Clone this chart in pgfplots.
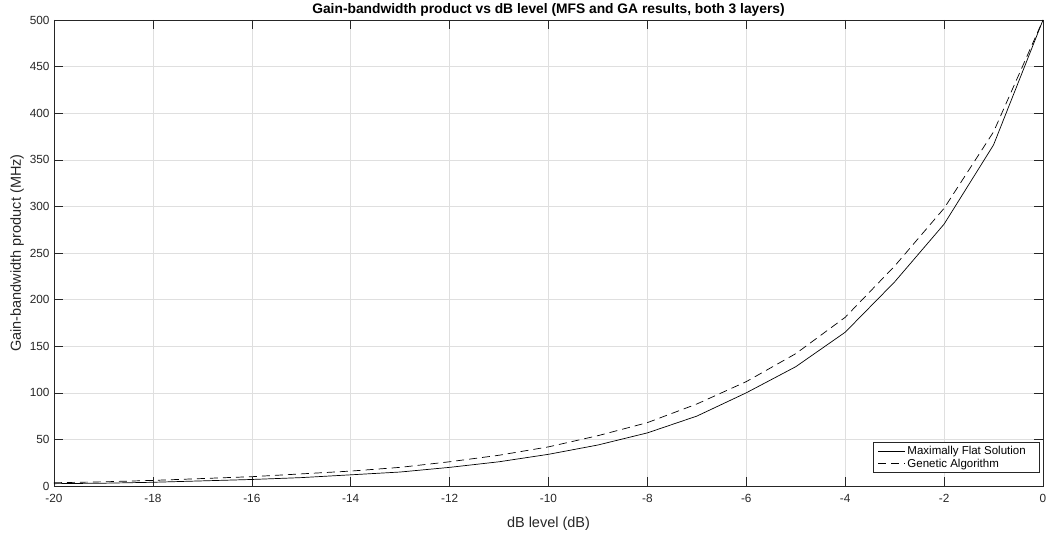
\documentclass[border=0pt]{standalone}
\usepackage{pgfplots}
\pgfplotsset{compat=1.18}
\usepackage{fontspec}
\setmainfont{Liberation Sans}
\definecolor{axgray}{RGB}{38,38,38}
\definecolor{gridgray}{RGB}{223,223,223}
\begin{document}
\begin{tikzpicture}
\begin{axis}[
  scale only axis,
  width=989pt, height=466pt,
  xmin=-20, xmax=0, ymin=0, ymax=500,
  xtick={-20,-18,...,0}, ytick={0,50,...,500},
  grid=major,
  major grid style={gridgray, line width=0.6pt},
  axis line style={axgray, line width=0.6pt},
  tick style={axgray, line width=0.6pt},
  tick align=inside,
  major tick length=9pt,
  ticklabel style={font=\fontsize{11.8}{13}\selectfont, text=axgray},
  /pgf/number format/assume math mode=true,
  xticklabel style={yshift=-5pt},
  yticklabel style={xshift=-1pt},
  xlabel={dB level (dB)},
  ylabel={Gain-bandwidth product (MHz)},
  label style={font=\fontsize{14.5}{16}\selectfont, text=axgray},
  xlabel style={yshift=-7pt},
  ylabel style={yshift=-1pt},
  title={Gain-bandwidth product vs dB level (MFS and GA results, both 3 layers)},
  title style={font=\bfseries\fontsize{13.8}{15}\selectfont, yshift=-6pt},
  legend style={at={(1,0)}, anchor=south east, font=\fontsize{11.5}{13}\selectfont, draw=axgray, line width=0.6pt, inner xsep=4pt, inner ysep=2pt, row sep=-1pt, xshift=-3pt, yshift=13pt},
  legend cell align=left,
  legend image code/.code={\draw[#1] (0cm,0cm) -- (27pt,0cm);},
]
\addplot[black, line width=0.7pt] coordinates {
(-20,2.5) (-19,3) (-18,4) (-17,5.5) (-16,7) (-15,9) (-14,12) (-13,15) (-12,20) (-11,26)
(-10,34) (-9,44) (-8,57) (-7,75) (-6,100) (-5,128) (-4,165) (-3,219) (-2,281) (-1,366) (0,500)};
\addlegendentry{Maximally Flat Solution\kern8pt}
\addplot[black, line width=0.7pt, dash pattern=on 8pt off 5pt] coordinates {
(-20,3.5) (-19,4.5) (-18,6) (-17,8) (-16,10) (-15,13) (-14,16) (-13,20) (-12,26) (-11,33)
(-10,42) (-9,54) (-8,68) (-7,88) (-6,112) (-5,142) (-4,181) (-3,236) (-2,298) (-1,380) (0,500)};
\addlegendentry{Genetic Algorithm}
\end{axis}
\pgfresetboundingbox
\path ([shift={(-54pt,-47pt)}]current axis.south west) rectangle ([shift={(992pt,486pt)}]current axis.south west);
\end{tikzpicture}
\end{document}
